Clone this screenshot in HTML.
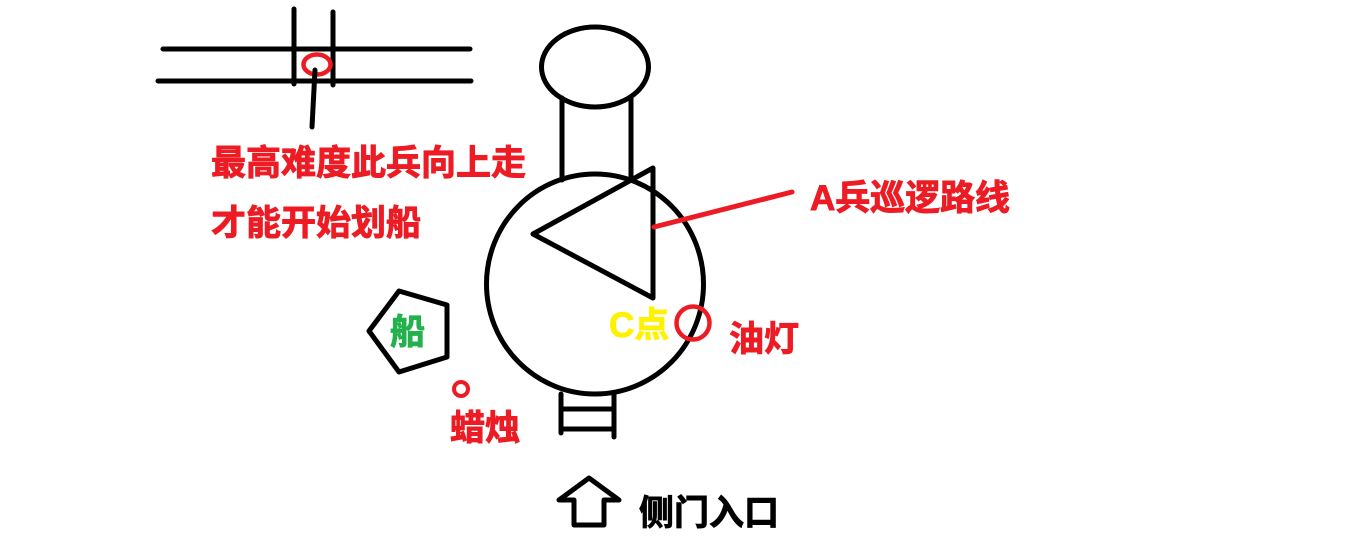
<!DOCTYPE html>
<html>
<head>
<meta charset="utf-8">
<style>
html,body{margin:0;padding:0;background:#fff;width:1358px;height:539px;overflow:hidden}
svg{display:block}
text{font-family:"Liberation Sans","Noto Sans CJK SC",sans-serif;font-weight:bold;font-size:35px;fill:#ed1c24;stroke:#ed1c24;stroke-width:.9px}
</style>
</head>
<body>
<svg width="1358" height="539" viewBox="0 0 1358 539" xmlns="http://www.w3.org/2000/svg">
<rect width="1358" height="539" fill="#fff"/>
<g fill="none" stroke="#000" stroke-width="5" stroke-linecap="round" stroke-linejoin="round">
  <path d="M163 49H470M158 81H471M294 9V84M333 12V85"/>
  <path d="M562 98V180M631 98V180"/>
  <ellipse cx="595" cy="67" rx="53.5" ry="40"/>
  <ellipse cx="595" cy="284" rx="108.5" ry="110"/>
  <path d="M653 168L533 234L653 298Z"/>
  <path d="M399 291L447 305V357L399 372L369 331Z"/>
  <path d="M561 394V433M614 394V437M561 409H614M561 429H614"/>
  <path d="M589 478L559 500H574V525H604V500H619Z"/>
</g>
<ellipse cx="317" cy="64.500" rx="13.5" ry="10" fill="none" stroke="#ed1c24" stroke-width="4.5"/>
<path d="M315 70L312 127" stroke="#000" stroke-width="5" stroke-linecap="round" fill="none"/>
<path d="M654 227L792 192" stroke="#ed1c24" stroke-width="5" stroke-linecap="round" fill="none"/>
<circle cx="461" cy="389" r="7" fill="none" stroke="#ed1c24" stroke-width="4"/>
<circle cx="693" cy="323" r="16.5" fill="none" stroke="#ed1c24" stroke-width="4.5"/>
<text x="211" y="175">最高难度此兵向上走</text>
<text x="211" y="235">才能开始划船</text>
<text x="810" y="210" textLength="200">A兵巡逻路线</text>
<text x="390" y="344" style="fill:#22b14c;stroke:#22b14c">船</text>
<text x="450" y="440">蜡烛</text>
<text x="609" y="337" style="fill:#fff200;stroke:#fff200">C点</text>
<text x="729" y="351">油灯</text>
<text x="639" y="525" style="fill:#000;stroke:#000">侧门入口</text>
</svg>
</body>
</html>
